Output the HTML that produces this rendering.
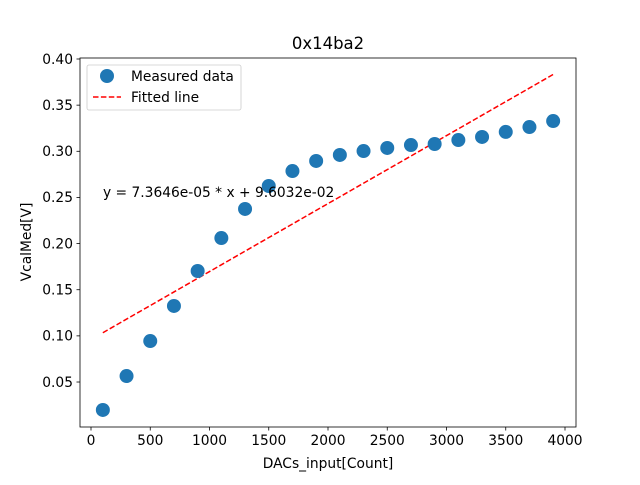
<!DOCTYPE html>
<html><head><meta charset="utf-8"><style>
body{margin:0;background:#fff;font-family:"Liberation Sans","DejaVu Sans",sans-serif;}
svg text{font-family:"DejaVu Sans","Liberation Sans",sans-serif;}
</style></head><body>
<svg id="chart" width="640" height="480" xmlns="http://www.w3.org/2000/svg">
<rect width="640" height="480" fill="#fff"/>
<g id="plot"></g>
</svg>
<script>
const xValues=[100,300,500,700,900,1100,1300,1500,1700,1900,2100,2300,2500,2700,2900,3100,3300,3500,3700,3900];
const yValues=[0.0197,0.0565,0.0944,0.1324,0.1703,0.206,0.2375,0.2624,0.2786,0.2895,0.296,0.3003,0.3036,0.3068,0.3079,0.3122,0.3155,0.321,0.3263,0.3328];
const fitSlope=7.3646e-5;
const fitIntercept=9.6032e-2;
const xTicks=[0,500,1000,1500,2000,2500,3000,3500,4000];
const yTicks=[0.05,0.10,0.15,0.20,0.25,0.30,0.35,0.40];

const L=80,R=576,T=58,B=427;
const sx=v=>91+v*0.1185;
const sy=v=>59+(0.40-v)*922.9;
const g=document.getElementById('plot');
const NS='http://www.w3.org/2000/svg';
function mk(tag,attrs,parent){const e=document.createElementNS(NS,tag);for(const k in attrs)e.setAttribute(k,attrs[k]);(parent||g).appendChild(e);return e;}

const x0=xValues[0],x1=xValues[xValues.length-1];
let fl=mk('line',{x1:sx(x0),y1:sy(fitSlope*x0+fitIntercept),x2:sx(x1),y2:sy(fitSlope*x1+fitIntercept),stroke:'#ff0000','stroke-width':1.5,'stroke-dasharray':'5.5,2.4'});



xValues.forEach((x,i)=>{
  const c=mk('circle',{cx:sx(x),cy:sy(yValues[i]),r:7,fill:'#1f77b4'});
  
  
});

const fr=mk('rect',{x:L,y:T,width:R-L,height:B-T,fill:'none',stroke:'#000','stroke-width':0.8});



xTicks.forEach(t=>{
  const x=sx(t);
  mk('line',{x1:x,y1:B,x2:x,y2:B+3.5,stroke:'#000','stroke-width':0.8});
  const tx=mk('text',{x:x,y:B+18,'font-size':13.8,'text-anchor':'middle',fill:'#000'});
  tx.textContent=t;
  
  
});
yTicks.forEach(t=>{
  const y=sy(t);
  mk('line',{x1:L,y1:y,x2:L-3.5,y2:y,stroke:'#000','stroke-width':0.8});
  const tx=mk('text',{x:L-7,y:y+4.8,'font-size':13.8,'text-anchor':'end',fill:'#000'});
  tx.textContent=t.toFixed(2);
  
  
});
</script>
<svg width="640" height="480" style="position:absolute;left:0;top:0" xmlns="http://www.w3.org/2000/svg">
<text x="328" y="49" font-size="16.5" text-anchor="middle">0x14ba2</text>
<text x="328" y="468" font-size="13.8" text-anchor="middle">DACs_input[Count]</text>
<text x="31" y="242" font-size="13.8" text-anchor="middle" transform="rotate(-90 31 242)">VcalMed[V]</text>
<text x="103" y="197" font-size="13.8">y = 7.3646e-05 * x + 9.6032e-02</text>
<g>
<rect x="87" y="65" width="154" height="45" rx="2" fill="#fff" fill-opacity="0.8" stroke="#ccc" stroke-width="0.8"/>
<circle cx="107" cy="76" r="7" fill="#1f77b4"/>
<text x="131" y="81" font-size="13.8">Measured data</text>
<line x1="93" y1="97" x2="121" y2="97" stroke="#ff0000" stroke-width="1.5" stroke-dasharray="5.5,2.4"/>
<text x="131" y="102" font-size="13.8">Fitted line</text>
</g>
</svg>
</body></html>
